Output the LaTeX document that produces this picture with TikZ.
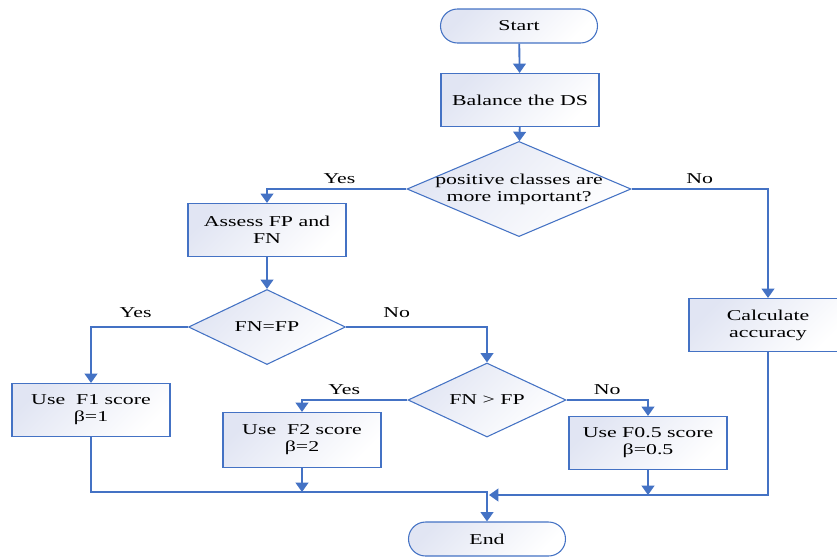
\documentclass[tikz,border=0pt]{standalone}
\usepackage{fontspec}
\setmainfont{Liberation Serif}[FakeStretch=1.45]
\usetikzlibrary{shapes.geometric,shapes.misc,arrows.meta}
\definecolor{flowblue}{HTML}{4472C4}
\definecolor{boxfill}{HTML}{E1E5F3}
\begin{document}
\begin{tikzpicture}[x=0.75pt, y=-0.75pt,
    every node/.style={font=\fontsize{11.3}{12.8}\selectfont, align=center},
    filled/.style={draw=flowblue, line width=0.8pt, top color=boxfill, bottom color=white, shading angle=45},
    terminal/.style={filled, rounded rectangle, minimum width=117.75pt, minimum height=25.5pt, inner sep=0pt},
    process/.style={filled, rectangle, minimum width=118.5pt, minimum height=39.75pt, inner sep=0pt},
    decision/.style={filled, diamond, inner sep=0pt, aspect=2.2},
    flow/.style={draw=flowblue, line width=1.4pt, -{Triangle[width=9.5pt,length=7pt]}}]
    \useasboundingbox (0,0) rectangle (837,557);
    % nodes
    \node[terminal] (start) at (519,26) {Start};
    \node[process] (balance) at (520,100) {Balance the DS};
    \node[decision, minimum width=168pt, minimum height=69.75pt, inner sep=-3pt] (q1) at (519,189) {positive classes are\\more important?};
    \node[process] (assess) at (267,230) {Assess FP and\\FN};
    \node[process] (calc) at (768,325) {Calculate\\accuracy};
    \node[decision, minimum width=117.75pt, minimum height=56.25pt] (q2) at (267,327) {FN=FP};
    \node[process] (f1) at (91,410) {Use~ F1 score\\β=1};
    \node[decision, minimum width=118.5pt, minimum height=55.5pt] (q3) at (487,400) {FN > FP};
    \node[process, minimum height=41.25pt] (f2) at (302,440) {Use~ F2 score\\β=2};
    \node[process] (f05) at (648,443) {Use F0.5 score\\β=0.5};
    \node[terminal] (end) at (487,539) {End};
    \coordinate (join) at (487,492);
    \coordinate (join2) at (489,495);
    % connectors
    \draw[flow] (start) -- (balance);
    \draw[flow] (balance) -- (q1);
    \draw[flow] (q1.west) -| node[pos=0.24, above] {Yes} (assess.north);
    \draw[flow] (q1.east) -| node[pos=0.25, above] {No} (calc.north);
    \draw[flow] (assess) -- (q2);
    \draw[flow] (q2.west) -| node[pos=0.27, above=3pt] {Yes} (f1.north);
    \draw[flow] (q2.east) -| node[pos=0.18, above=3pt] {No} (q3.north);
    \draw[flow] (q3.west) -| node[pos=0.3, above=0pt] {Yes} (f2.north);
    \draw[flow] (q3.east) -| node[pos=0.25, above=0pt] {No} (f05.north);
    \draw[flow] (f1.south) |- (join) -- (end.north);
    \draw[flow] (f2.south) -- (f2.south |- join);
    \draw[flow] (calc.south) |- (join2);
    \draw[flow] (f05.south) -- (f05.south |- join2);
\end{tikzpicture}
\end{document}
